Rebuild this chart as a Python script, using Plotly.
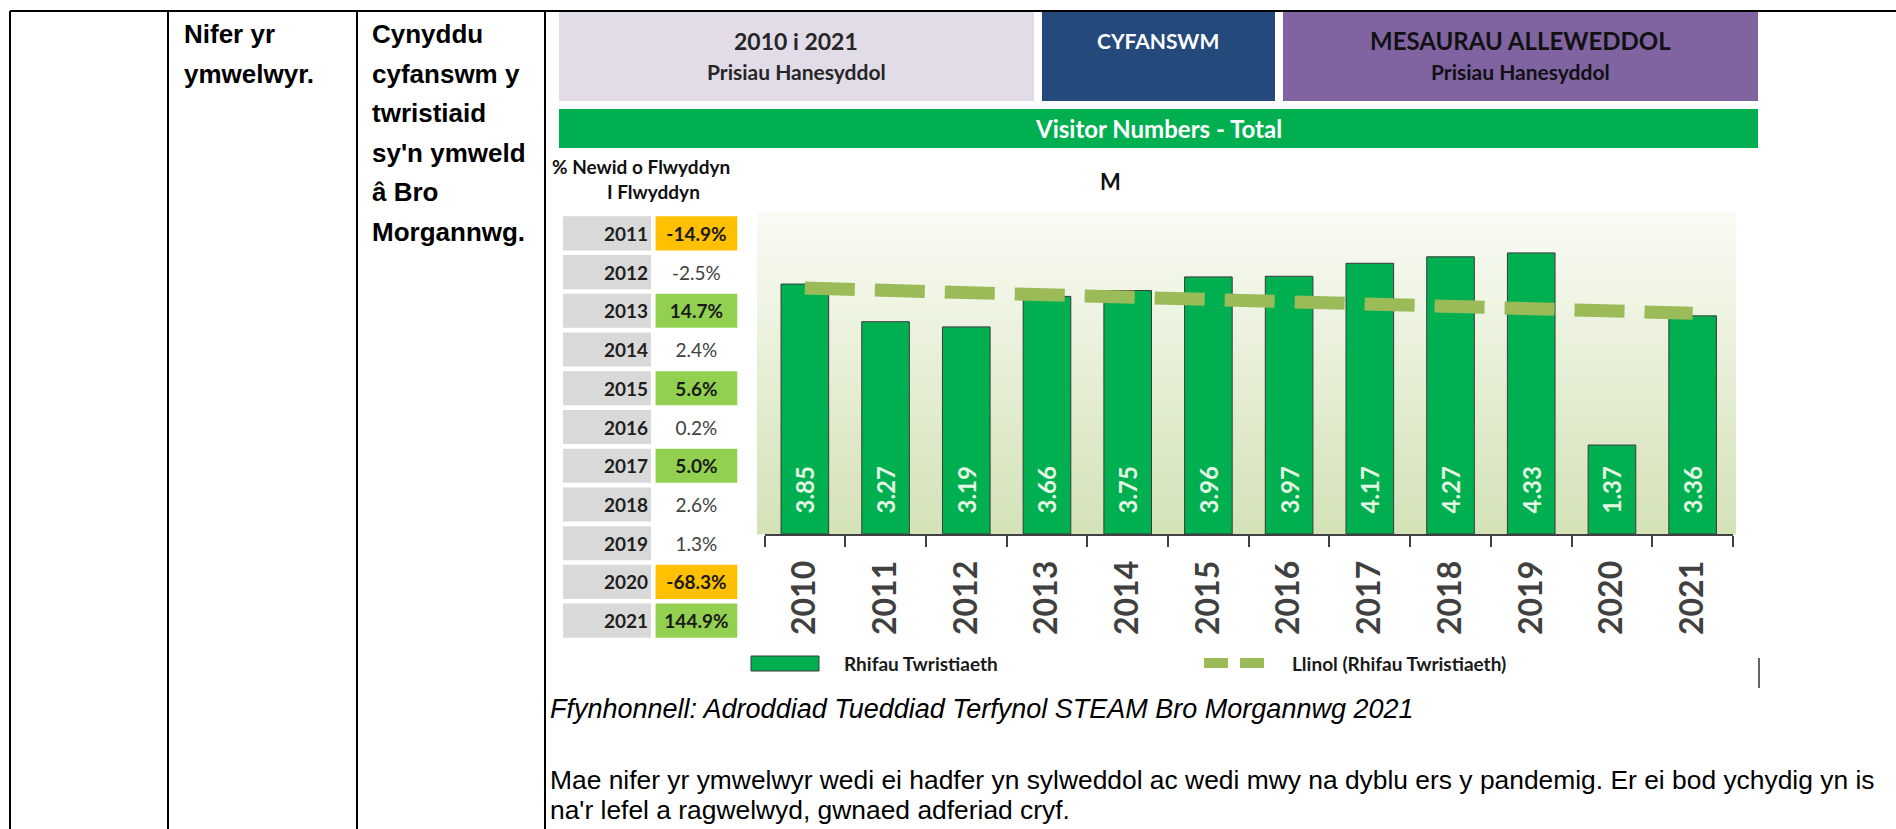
import plotly.graph_objects as go

W, H = 1896, 829

# ---------------- data ----------------
years = ["2010", "2011", "2012", "2013", "2014", "2015",
         "2016", "2017", "2018", "2019", "2020", "2021"]
visitors_m = [3.85, 3.27, 3.19, 3.66, 3.75, 3.96, 3.97, 4.17, 4.27, 4.33, 1.37, 3.36]
trend_years = ["2010", "2021"]
trend_values = [3.79, 3.40]

change_years = ["2011", "2012", "2013", "2014", "2015", "2016",
                "2017", "2018", "2019", "2020", "2021"]
change_pct = [-14.9, -2.5, 14.7, 2.4, 5.6, 0.2, 5.0, 2.6, 1.3, -68.3, 144.9]

header_left = ["2010 i 2021", "Prisiau Hanesyddol"]
header_mid = "CYFANSWM"
header_right = ["MESAURAU ALLEWEDDOL", "Prisiau Hanesyddol"]
banner_title = "Visitor Numbers - Total"
side_title = ["% Newid o Flwyddyn", "I Flwyddyn"]
unit_title = "M"
legend_labels = ["Rhifau Twristiaeth", "Llinol (Rhifau Twristiaeth)"]

col2_lines = ["Nifer yr", "ymwelwyr."]
col3_lines = ["Cynyddu", "cyfanswm y", "twristiaid", "sy'n ymweld", "â Bro", "Morgannwg."]
source_text = "Ffynhonnell: Adroddiad Tueddiad Terfynol STEAM Bro Morgannwg 2021"
paragraph_lines = [
    "Mae nifer yr ymwelwyr wedi ei hadfer yn sylweddol ac wedi mwy na dyblu ers y pandemig. Er ei bod ychydig yn is",
    "na'r lefel a ragwelwyd, gwnaed adferiad cryf.",
]


def fx(x):
    return x / W


def fy(y):
    return 1 - y / H


fig = go.Figure()


def rect(x0, y0, x1, y1, fill, line=None, layer="above"):
    fig.add_shape(type="rect", xref="paper", yref="paper",
                  x0=fx(x0), x1=fx(x1), y0=fy(y1), y1=fy(y0),
                  fillcolor=fill, line=dict(width=0) if line is None else line,
                  layer=layer)


def hline(x0, x1, y, color="#000", width=2):
    fig.add_shape(type="line", xref="paper", yref="paper",
                  x0=fx(x0), x1=fx(x1), y0=fy(y), y1=fy(y),
                  line=dict(color=color, width=width))


def vline(x, y0, y1, color="#000", width=2):
    fig.add_shape(type="line", xref="paper", yref="paper",
                  x0=fx(x), x1=fx(x), y0=fy(y0), y1=fy(y1),
                  line=dict(color=color, width=width))


def note(text, x, y, size, color="#000", family="Lato", weight="normal",
         xanchor="left", style="normal"):
    fig.add_annotation(text=text, x=fx(x), y=fy(y), xref="paper", yref="paper",
                       showarrow=False, xanchor=xanchor, yanchor="middle",
                       font=dict(family=family, size=size, color=color,
                                 weight=weight, style=style))


# ---------------- table frame ----------------
hline(10, W, 11)
for xv in (10, 168, 357, 545):
    vline(xv, 11, H)

for i, t in enumerate(col2_lines):
    note(t, 182, 34 + i * 39.6, 26, "#000", "Liberation Sans", "bold")
for i, t in enumerate(col3_lines):
    note(t, 370, 34 + i * 39.6, 26, "#000", "Liberation Sans", "bold")

# ---------------- chart header ----------------
rect(559, 12, 1034, 101, "#E1DCE8")
rect(1042, 12, 1275, 101, "#234A7A")
rect(1283, 12, 1758, 101, "#8064A2")
rect(559, 109, 1758, 148, "#00B050")

note(header_left[0], 796, 41, 23, "#262626", weight="bold", xanchor="center")
note(header_left[1], 796, 71, 21, "#262626", weight="bold", xanchor="center")
note(header_mid, 1158, 40, 21, "#FFFFFF", weight="bold", xanchor="center")
note(header_right[0], 1520, 41, 24, "#111111", weight="bold", xanchor="center")
note(header_right[1], 1520, 71, 21, "#111111", weight="bold", xanchor="center")
note(banner_title, 1158, 129, 24, "#FFFFFF", weight="bold", xanchor="center")

note(side_title[0], 641, 166, 19, "#111111", weight="bold", xanchor="center")
note(side_title[1], 653, 192, 19, "#111111", weight="bold", xanchor="center")
note(unit_title, 1110, 181, 22, "#111111", weight="bold", xanchor="center")

# ---------------- gradient plot background ----------------
top_c = (249, 251, 244)
bot_c = (212, 226, 184)
n_strips = 48
g_top, g_bot = 212, 534
for k in range(n_strips):
    t = k / (n_strips - 1)
    c = tuple(round(top_c[j] + (bot_c[j] - top_c[j]) * t) for j in range(3))
    y0 = g_top + (g_bot - g_top) * k / n_strips
    y1 = g_top + (g_bot - g_top) * (k + 1) / n_strips + 0.6
    rect(757, y0, 1736, y1, "rgb(%d,%d,%d)" % c, layer="below")

# ---------------- main bar chart ----------------
fig.add_trace(go.Bar(
    x=years, y=visitors_m, width=0.59,
    marker=dict(color="#00B050", line=dict(color="#3A3A3A", width=1)),
    texttemplate="\u00a0\u00a0\u00a0%{y:.2f}", textposition="inside",
    insidetextanchor="start", textangle=-90, constraintext="none",
    textfont=dict(family="Lato", size=24, color="#E4F6E4", weight="bold"),
    hoverinfo="skip", xaxis="x", yaxis="y",
))
fig.add_trace(go.Scatter(
    x=trend_years, y=trend_values, mode="lines",
    line=dict(color="#9BBB59", width=13, dash="50px,20px"),
    hoverinfo="skip", xaxis="x", yaxis="y",
))

# ---------------- % change side table ----------------
def cell_color(v):
    if v <= -5:
        return "#FFC000"
    if v >= 5:
        return "#92D050"
    return "rgba(255,255,255,0)"


val_text = []
val_color = []
for v in change_pct:
    s = "%.1f%%" % v
    if v <= -5 or v >= 5:
        val_text.append("<b>" + s + "</b>")
        val_color.append("#1A1A1A")
    else:
        val_text.append(s)
        val_color.append("#404040")

n = len(change_years)
fig.add_trace(go.Bar(
    y=change_years, x=[0.97] * n, base=0, orientation="h", width=0.88,
    marker=dict(color="#D9D9D9", line=dict(width=0)),
    text=change_years, textposition="inside", insidetextanchor="end",
    constraintext="none",
    textfont=dict(family="Lato", size=19, color="#1F1F1F", weight="bold"),
    hoverinfo="skip", xaxis="x2", yaxis="y2",
))
fig.add_trace(go.Bar(
    y=change_years, x=[0.9] * n, base=1.02, orientation="h", width=0.88,
    marker=dict(color=[cell_color(v) for v in change_pct], line=dict(width=0)),
    text=val_text, textposition="inside", insidetextanchor="middle",
    constraintext="none",
    textfont=dict(family="Lato", size=19, color=val_color),
    hoverinfo="skip", xaxis="x2", yaxis="y2",
))

# ---------------- legend ----------------
rect(751, 656, 819, 671, "#00B050", line=dict(color="#3A3A3A", width=1))
note(legend_labels[0], 842, 663, 19, "#1A1A1A", weight="bold")
fig.add_shape(type="line", xref="paper", yref="paper", x0=fx(1204), x1=fx(1228),
              y0=fy(663), y1=fy(663), line=dict(color="#9BBB59", width=10))
fig.add_shape(type="line", xref="paper", yref="paper", x0=fx(1240), x1=fx(1264),
              y0=fy(663), y1=fy(663), line=dict(color="#9BBB59", width=10))
note(legend_labels[1], 1290, 663, 19, "#1A1A1A", weight="bold")
vline(1759, 658, 688, "#333333", 1.5)

# ---------------- source and paragraph ----------------
note(source_text, 548, 709, 27, "#000", "Liberation Sans", style="italic")
for i, t in enumerate(paragraph_lines):
    note(t, 548, 780 + i * 30, 26.4, "#000", "Liberation Sans")

# ---------------- layout ----------------
fig.update_layout(
    width=W, height=H, margin=dict(l=0, r=0, t=0, b=0),
    paper_bgcolor="#FFFFFF", plot_bgcolor="rgba(0,0,0,0)",
    showlegend=False, barmode="overlay",
    font=dict(family="Lato"),
    xaxis=dict(
        domain=[fx(764.5), fx(1733)], type="category",
        categoryorder="array", categoryarray=years, range=[-0.5, 11.5],
        showline=True, linecolor="#404040", linewidth=2,
        ticks="outside", ticklen=11, tickwidth=2, tickcolor="#404040",
        tickson="boundaries", tickangle=-90, ticklabelstandoff=12,
        tickfont=dict(family="Lato", size=32, color="#404040", weight="bold"),
        showgrid=False, zeroline=False, fixedrange=True,
    ),
    yaxis=dict(
        domain=[fy(534), fy(212)], range=[0, 4.96], visible=False, fixedrange=True,
    ),
    xaxis2=dict(
        domain=[fx(563), fx(740)], range=[0, 1.95], visible=False,
        anchor="y2", fixedrange=True,
    ),
    yaxis2=dict(
        domain=[fy(640), fy(214)], type="category", categoryorder="array",
        categoryarray=change_years, autorange="reversed", visible=False,
        anchor="x2", fixedrange=True,
    ),
)

fig.write_html(
    "out.html",
    config={"displayModeBar": False},
    post_script="document.body.style.margin='0';document.body.style.overflow='hidden';",
)
